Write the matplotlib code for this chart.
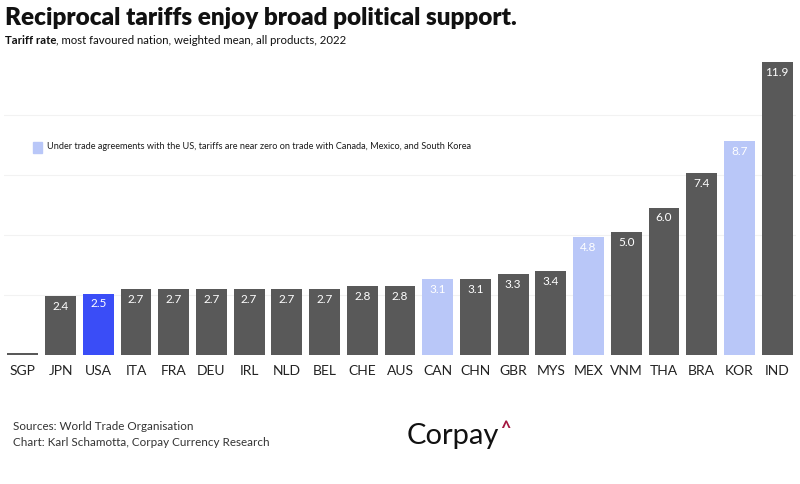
import matplotlib
matplotlib.use('Agg')
import matplotlib.pyplot as plt
import numpy as np

plt.rcParams.update({
    'font.family': ['Lato', 'DejaVu Sans'],
    'font.size': 9,
})

DARK = '#595959'
USA_BLUE = '#3a4df7'
FTA_BLUE = '#b9c7f8'

countries = ['SGP', 'JPN', 'USA', 'ITA', 'FRA', 'DEU', 'IRL', 'NLD', 'BEL', 'CHE', 'AUS',
             'CAN', 'CHN', 'GBR', 'MYS', 'MEX', 'VNM', 'THA', 'BRA', 'KOR', 'IND']
tariffs = [0.1, 2.4, 2.5, 2.7, 2.7, 2.7, 2.7, 2.7, 2.7, 2.8, 2.8,
           3.1, 3.1, 3.3, 3.4, 4.8, 5.0, 6.0, 7.4, 8.7, 11.9]
fta_partners = ['CAN', 'MEX', 'KOR']

colors = []
for c in countries:
    if c == 'USA':
        colors.append(USA_BLUE)
    elif c in fta_partners:
        colors.append(FTA_BLUE)
    else:
        colors.append(DARK)

fig = plt.figure(figsize=(8, 4.84), dpi=100)
ax = fig.add_axes([0.005, 0.2665, 0.99, 0.6095])

x = np.arange(len(countries))
ax.bar(x, tariffs, width=0.82, color=colors, zorder=3)

for xi, v in zip(x, tariffs):
    if v < 1:
        continue
    ax.annotate(f'{v:.1f}', (xi, v), xytext=(0, -3.5), textcoords='offset points',
                ha='center', va='top', color='white', fontsize=8.5, zorder=4)

ax.set_xlim(-0.5, len(countries) - 0.5)
ax.set_ylim(0, 12)
ax.set_yticks(np.arange(1, 5) * 2.44)
ax.yaxis.grid(True, color='#f2f2f2', lw=0.8, zorder=0)
ax.tick_params(axis='y', length=0, labelleft=False)
ax.tick_params(axis='x', length=0, pad=7, labelsize=10, labelcolor='#222222')
ax.set_xticks(x)
ax.set_xticklabels(countries)
for s in ax.spines.values():
    s.set_visible(False)

# legend note
fig.patches.append(plt.Rectangle((33 / 800, 1 - 153 / 484), 9 / 800, 11 / 484,
                                 transform=fig.transFigure, color=FTA_BLUE))
fig.text(47 / 800, 1 - 147 / 484,
         'Under trade agreements with the US, tariffs are near zero on trade with Canada, Mexico, and South Korea',
         ha='left', va='center', fontsize=6.6, color='#1a1a1a')

# titles
fig.text(5 / 800, 1 - 18 / 484, 'Reciprocal tariffs enjoy broad political support.',
         ha='left', va='center', fontsize=17.5, fontweight='heavy', color='#111111')
t1 = fig.text(5 / 800, 1 - 41 / 484, 'Tariff rate', ha='left', va='center',
              fontsize=8.2, fontweight='bold', color='#111111')
fig.canvas.draw()
bb = t1.get_window_extent()
fig.text(bb.x1 / 800, 1 - 41 / 484, ', most favoured nation, weighted mean, all products, 2022',
         ha='left', va='center', fontsize=8.2, color='#111111')

# footer
fig.text(13 / 800, 1 - 427 / 484, 'Sources: World Trade Organisation',
         ha='left', va='center', fontsize=8.4, color='#333333')
fig.text(13 / 800, 1 - 443 / 484, 'Chart: Karl Schamotta, Corpay Currency Research',
         ha='left', va='center', fontsize=8.4, color='#333333')
logo = fig.text(407 / 800, 1 - 436 / 484, 'Corpay', ha='left', va='center',
                fontsize=21, color='#111111')
fig.canvas.draw()
lb = logo.get_window_extent()
fig.text(lb.x1 / 800 + 0.001, 1 - 429 / 484, '^', ha='left', va='center',
         fontsize=13, fontweight='bold', color='#a3173f')

fig.savefig('out.png', dpi=100, facecolor='white')
